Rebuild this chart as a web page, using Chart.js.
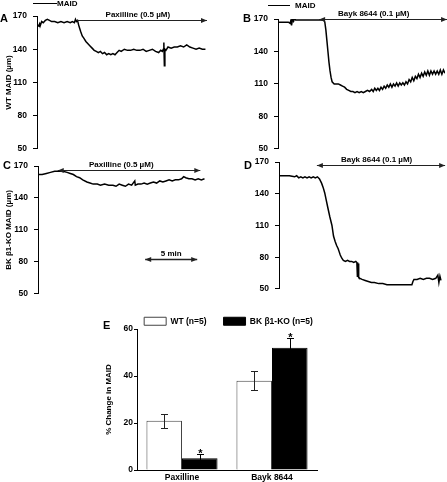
<!DOCTYPE html>
<html>
<head>
<meta charset="utf-8">
<script src="https://cdn.jsdelivr.net/npm/chart.js@4.4.1/dist/chart.umd.min.js"></script>
<style>
  html, body { margin: 0; padding: 0; background: #fff; }
  body { width: 447px; height: 482px; position: relative; overflow: hidden; }
  canvas { position: absolute; }
</style>
</head>
<body>
<canvas id="panelA" width="223" height="160" style="left:0;top:0"></canvas>
<canvas id="panelB" width="223" height="160" style="left:224px;top:0"></canvas>
<canvas id="panelC" width="223" height="155" style="left:0;top:150px"></canvas>
<canvas id="panelD" width="223" height="150" style="left:224px;top:150px"></canvas>
<canvas id="panelE" width="254" height="182" style="left:100px;top:300px"></canvas>
<script>
// time in minutes, MAID in µm
let timeA = [0, 0.15, 0.25, 0.3, 0.45, 0.6, 0.8, 1.0, 1.2, 1.4, 1.7, 2.0, 2.3, 2.6, 2.9, 3.2, 3.4, 3.6, 3.7, 3.8, 3.9, 4.0, 4.1, 4.2, 4.35, 4.5, 4.7, 4.9, 5.1, 5.3, 5.5, 5.7, 5.9, 6.1, 6.3, 6.5, 6.7, 6.9, 7.1, 7.3, 7.5, 7.7, 7.9, 8.1, 8.4, 8.7, 9.0, 9.3, 9.6, 9.9, 10.2, 10.5, 10.8, 11.1, 11.4, 11.7, 11.9, 12.05, 12.15, 12.2, 12.25, 12.3, 12.4, 12.6, 12.9, 13.2, 13.5, 13.8, 14.1, 14.4, 14.7, 15.0, 15.3, 15.6, 15.9, 16.2];
let maidA = [162, 161, 163, 161, 165, 164, 166, 167, 166, 165, 165, 164, 165, 164, 165, 164, 165, 164, 167, 165, 166, 162, 159, 156, 152, 150, 147, 145, 143, 141, 139, 138, 137, 138, 136, 137, 135, 136, 135, 136, 135, 137, 139, 138, 140, 139, 139, 140, 139, 139, 140, 138, 139, 140, 138, 137, 139, 138, 140, 146, 125, 140, 139, 142, 141, 142, 142, 143, 142, 144, 142, 141, 140, 141, 140, 140];

let timeB = [0, 0.5, 1.0, 1.15, 1.25, 1.3, 1.4, 1.5, 1.6, 1.7, 2.0, 2.5, 3.0, 3.5, 4.0, 4.4, 4.5, 4.6, 4.7, 4.8, 4.9, 5.0, 5.1, 5.2, 5.4, 5.6, 5.8, 6.0, 6.2, 6.4, 6.6, 6.8, 7.0, 7.2, 7.4, 7.6, 7.8, 8.0, 8.2, 8.4, 8.6, 8.8, 9.0, 9.15, 9.3, 9.45, 9.6, 9.75, 9.9, 10.05, 10.2, 10.35, 10.5, 10.65, 10.8, 10.95, 11.1, 11.25, 11.4, 11.55, 11.7, 11.85, 12.0, 12.15, 12.3, 12.45, 12.6, 12.75, 12.9, 13.05, 13.2, 13.35, 13.5, 13.65, 13.8, 13.95, 14.1, 14.25, 14.4, 14.55, 14.7, 14.85, 15.0, 15.15, 15.3, 15.45, 15.6, 15.75, 15.9, 16.05];
let maidB = [167, 167, 167, 166, 169, 164, 170, 168, 171, 169, 169, 169, 169, 169, 169, 169, 167, 160, 150, 140, 130, 122, 116, 112, 110, 110, 110, 109, 108, 107, 105, 104, 103, 103, 102, 103, 102, 103, 102, 103, 104, 103, 105, 103, 106, 104, 106, 104, 107, 105, 108, 106, 109, 107, 110, 107, 110, 108, 111, 108, 111, 109, 111, 109, 112, 110, 114, 112, 116, 113, 117, 115, 119, 116, 120, 117, 121, 118, 122, 118, 122, 119, 122, 119, 122, 119, 123, 119, 123, 120];

let timeC = [0, 0.4, 0.8, 1.2, 1.6, 2.0, 2.4, 2.8, 3.1, 3.4, 3.7, 4.0, 4.3, 4.7, 5.0, 5.3, 5.7, 6.0, 6.4, 6.8, 7.2, 7.5, 7.8, 8.1, 8.4, 8.7, 9.0, 9.3, 9.35, 9.6, 9.9, 10.2, 10.5, 10.8, 11.1, 11.4, 11.7, 12.0, 12.3, 12.6, 12.9, 13.2, 13.5, 13.8, 14.0, 14.2, 14.5, 14.8, 15.1, 15.4, 15.7, 16.0];
let maidC = [162, 162, 163, 164, 165, 165, 165, 164, 163, 162, 160, 159, 157, 155, 154, 153, 153, 152, 153, 152, 152, 151, 153, 152, 151, 153, 152, 156, 152, 153, 153, 154, 153, 154, 155, 154, 156, 155, 156, 157, 156, 157, 157, 158, 160, 159, 158, 158, 157, 158, 157, 158];

let timeD = [0, 0.5, 1.0, 1.5, 1.7, 1.9, 2.1, 2.3, 2.5, 2.7, 2.9, 3.1, 3.3, 3.5, 3.7, 3.9, 4.1, 4.25, 4.4, 4.55, 4.7, 4.9, 5.1, 5.25, 5.4, 5.55, 5.7, 5.8, 5.9, 6.05, 6.2, 6.4, 6.6, 6.8, 7.0, 7.2, 7.4, 7.5, 7.55, 7.58, 7.62, 7.65, 7.7, 7.8, 8.0, 8.3, 8.6, 8.9, 9.2, 9.6, 10.0, 10.4, 10.8, 11.2, 11.6, 12.0, 12.4, 12.8, 12.9, 13.0, 13.3, 13.6, 13.9, 14.2, 14.5, 14.8, 15.1, 15.3, 15.4, 15.5, 15.6];
let maidD = [157, 157, 157, 156, 157, 155, 156, 155, 156, 155, 156, 155, 156, 155, 156, 154, 150, 146, 141, 134, 127, 118, 110, 100, 95, 91, 88, 85, 82, 79, 77, 76, 77, 76, 76, 75, 76, 75, 62, 75, 62, 74, 61, 60, 59, 58, 57, 56, 56, 55, 55, 54, 54, 54, 54, 54, 54, 54, 57, 59, 59, 60, 59, 60, 60, 59, 60, 63, 56, 62, 58];

// drug application periods (min) and the 5 min scale bar
let paxillineA = [3.85, 16.35];
let baykB = [3.95, 16.25];
let paxillineC = [1.9, 15.6];
let baykD = [3.65, 16.0];
let scaleBarC = [10.3, 15.3];

// panel E summary
let groups = ['Paxilline', 'Bayk 8644'];
let wtMean = [21, 38];
let wtErr = [3, 4];
let koMean = [5, 52];
let koErr = [2, 4];

Chart.defaults.font.family = "'Liberation Sans', Arial, sans-serif";
Chart.defaults.font.weight = 'bold';
Chart.defaults.font.size = 8.5;
Chart.defaults.color = '#000';

function arrow(ctx, x1, x2, y, headLeft, headRight, lw) {
  ctx.save();
  ctx.strokeStyle = '#222';
  ctx.fillStyle = '#222';
  ctx.lineWidth = lw;
  ctx.beginPath();
  ctx.moveTo(x1, y);
  ctx.lineTo(x2, y);
  ctx.stroke();
  if (headRight) {
    ctx.beginPath();
    ctx.moveTo(x2, y);
    ctx.lineTo(x2 - 6, y - 2.5);
    ctx.lineTo(x2 - 6, y + 2.5);
    ctx.fill();
  }
  if (headLeft) {
    ctx.beginPath();
    ctx.moveTo(x1, y);
    ctx.lineTo(x1 + 6, y - 2.5);
    ctx.lineTo(x1 + 6, y + 2.5);
    ctx.fill();
  }
  ctx.restore();
}

const panelMarks = {
  id: 'panelMarks',
  afterDraw(chart, args, opts) {
    const ctx = chart.ctx;
    const xs = chart.scales.x, ys = chart.scales.y;
    ctx.save();
    ctx.fillStyle = '#000';
    ctx.font = "bold 11px 'Liberation Sans', Arial, sans-serif";
    ctx.textAlign = 'left';
    ctx.textBaseline = 'middle';
    ctx.fillText(opts.letter, opts.letterX, opts.letterY);
    if (opts.maid) {
      const m = opts.maid;
      ctx.strokeStyle = '#000';
      ctx.lineWidth = 1;
      ctx.beginPath();
      ctx.moveTo(m.x0, m.y + 0.5);
      ctx.lineTo(m.x1, m.y + 0.5);
      ctx.stroke();
      ctx.font = "bold 8px 'Liberation Sans', Arial, sans-serif";
      ctx.fillText('MAID', m.tx, m.y + 1);
    }
    (opts.arrows || []).forEach(a => {
      const x1 = xs.getPixelForValue(a.range[0]);
      const x2 = xs.getPixelForValue(a.range[1]);
      const y = Math.round(ys.getPixelForValue(a.at)) + 0.5;
      arrow(ctx, x1, x2, y, a.both, true, a.lw || 1);
      ctx.font = "bold 8px 'Liberation Sans', Arial, sans-serif";
      ctx.textAlign = 'center';
      ctx.fillText(a.label, xs.getPixelForValue(a.labelAt), y - 6);
    });
    ctx.restore();
  }
};

function traceChart(id, times, values, xMax, cfg) {
  return new Chart(document.getElementById(id), {
    type: 'line',
    data: {
      datasets: [{
        label: 'MAID',
        data: times.map((t, i) => ({ x: t, y: values[i] })),
        borderColor: '#000',
        borderWidth: 1.5,
        pointRadius: 0,
        tension: 0
      }]
    },
    options: {
      responsive: false,
      animation: false,
      devicePixelRatio: 1,
      layout: { padding: cfg.pad },
      scales: {
        x: { type: 'linear', display: false, min: 0, max: xMax },
        y: {
          min: 50, max: 170,
          afterFit: s => { s.width = cfg.axisW; },
          border: { color: '#000', width: 1 },
          grid: { drawOnChartArea: false, color: '#000', tickLength: 4 },
          ticks: { stepSize: 30, padding: 6, color: '#000', font: { size: 8.5, weight: 'bold' } },
          title: {
            display: !!cfg.title,
            text: cfg.title || '',
            color: '#000',
            font: { size: 8, weight: 'bold' },
            padding: { top: 4, bottom: 4 }
          }
        }
      },
      plugins: {
        legend: { display: false },
        tooltip: { enabled: false },
        panelMarks: cfg.marks
      }
    },
    plugins: [panelMarks]
  });
}

traceChart('panelA', timeA, maidA, 16.35, {
  axisW: 37,
  pad: { top: 16, right: 16, bottom: 6, left: 0 },
  title: 'WT MAID (µm)',
  marks: {
    letter: 'A', letterX: 0, letterY: 19,
    maid: { x0: 33, x1: 57, y: 3, tx: 57 },
    arrows: [{ range: paxillineA, at: 166, label: 'Paxilline (0.5 µM)', labelAt: 9.7, both: false }]
  }
});

traceChart('panelB', timeB, maidB, 16.05, {
  axisW: 54,
  pad: { top: 19, right: 2, bottom: 7, left: 0 },
  marks: {
    letter: 'B', letterX: 19, letterY: 19,
    maid: { x0: 44, x1: 66, y: 5, tx: 71 },
    arrows: [{ range: baykB, at: 170, label: 'Bayk 8644 (0.1 µM)', labelAt: 9.2, both: true }]
  }
});

traceChart('panelC', timeC, maidC, 16.05, {
  axisW: 38,
  pad: { top: 16, right: 18, bottom: 6, left: 0 },
  title: 'BK β1-KO MAID (µm)',
  marks: {
    letter: 'C', letterX: 3, letterY: 16,
    arrows: [
      { range: paxillineC, at: 166.4, label: 'Paxilline (0.5 µM)', labelAt: 8.0, both: true },
      { range: scaleBarC, at: 82.5, label: '5 min', labelAt: 12.8, both: true, lw: 1.5 }
    ]
  }
});

traceChart('panelD', timeD, maidD, 15.7, {
  axisW: 55,
  pad: { top: 12, right: 5, bottom: 8, left: 0 },
  marks: {
    letter: 'D', letterX: 20, letterY: 16,
    arrows: [{ range: baykD, at: 167.2, label: 'Bayk 8644 (0.1 µM)', labelAt: 9.4, both: true }]
  }
});

const errorBars = {
  id: 'errorBars',
  afterLayout(chart) {
    // centre the legend over the plot area rather than the canvas
    chart.legend.left += 20;
    chart.legend.right += 20;
  },
  afterDatasetsDraw(chart) {
    const ctx = chart.ctx;
    const ys = chart.scales.y;
    const sets = [[wtMean, wtErr, '#222'], [koMean, koErr, '#000']];
    ctx.save();
    sets.forEach((s, i) => {
      const meta = chart.getDatasetMeta(i);
      meta.data.forEach((bar, j) => {
        const x = Math.round(bar.x) + 0.5;
        const top = Math.round(ys.getPixelForValue(s[0][j] + s[1][j])) + 0.5;
        const bot = Math.round(ys.getPixelForValue(s[0][j] - s[1][j])) + 0.5;
        ctx.strokeStyle = s[2];
        ctx.lineWidth = 1;
        ctx.beginPath();
        ctx.moveTo(x, top); ctx.lineTo(x, bot);
        ctx.moveTo(x - 3.5, top); ctx.lineTo(x + 3.5, top);
        ctx.moveTo(x - 3.5, bot); ctx.lineTo(x + 3.5, bot);
        ctx.stroke();
        if (i === 1) {
          ctx.fillStyle = '#000';
          ctx.font = "bold 11px 'Liberation Sans', Arial, sans-serif";
          ctx.textAlign = 'center';
          ctx.textBaseline = 'alphabetic';
          ctx.fillText('*', x, top + 2);
        }
      });
    });
    ctx.font = "bold 11px 'Liberation Sans', Arial, sans-serif";
    ctx.textAlign = 'left';
    ctx.textBaseline = 'middle';
    ctx.fillText('E', 3, 26);
    ctx.restore();
  }
};

new Chart(document.getElementById('panelE'), {
  type: 'bar',
  data: {
    labels: groups,
    datasets: [
      { label: 'WT (n=5)', data: wtMean, backgroundColor: '#fff', borderColor: '#444', borderWidth: 1, barPercentage: 1, categoryPercentage: 0.79 },
      { label: 'BK β1-KO (n=5)', data: koMean, backgroundColor: '#000', borderColor: '#000', borderWidth: 1, barPercentage: 1, categoryPercentage: 0.79 }
    ]
  },
  options: {
    responsive: false,
    animation: false,
    devicePixelRatio: 1,
    layout: { padding: { top: 0, right: 37, bottom: 0, left: 0 } },
    scales: {
      x: {
        afterFit: s => { s.height = 12; },
        border: { color: '#000', width: 1 },
        grid: { display: false, drawTicks: false },
        ticks: { padding: 3, color: '#000', font: { size: 8.5, weight: 'bold' } }
      },
      y: {
        min: 0, max: 60,
        afterFit: s => { s.width = 37; },
        border: { color: '#000', width: 1 },
        grid: { drawOnChartArea: false, color: '#000', tickLength: 3 },
        ticks: { stepSize: 20, padding: 1, color: '#000', font: { size: 8.5, weight: 'bold' } },
        title: { display: true, text: '% Change in MAID', color: '#000', font: { size: 8, weight: 'bold' }, padding: { top: 4, bottom: 4 } }
      }
    },
    plugins: {
      legend: {
        display: true,
        position: 'top',
        maxHeight: 29,
        labels: { boxWidth: 22, boxHeight: 8, padding: 17, color: '#000', font: { size: 8.5, weight: 'bold' } }
      },
      tooltip: { enabled: false }
    }
  },
  plugins: [errorBars]
});
</script>
</body>
</html>
